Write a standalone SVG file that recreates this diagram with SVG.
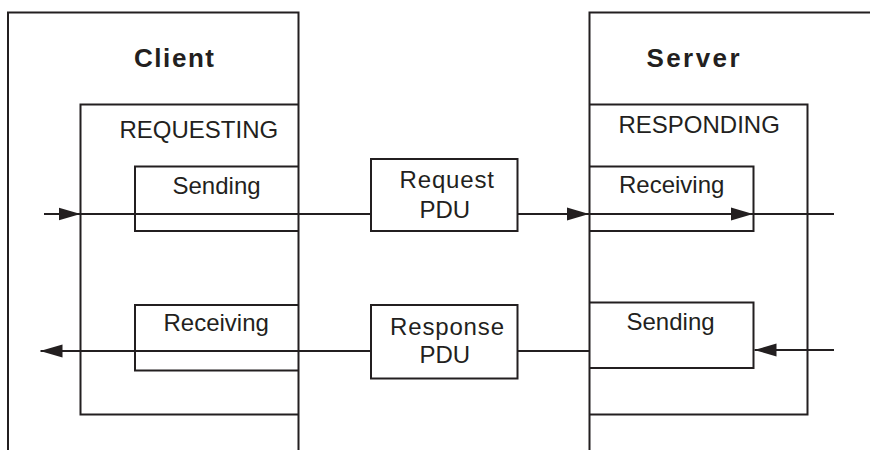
<svg xmlns="http://www.w3.org/2000/svg" width="870" height="450" viewBox="0 0 870 450">
  <style>
    .frame { fill: none; stroke: #231f20; stroke-width: 2; }
    .box { fill: #ffffff; stroke: #231f20; stroke-width: 2; }
    .wire { fill: none; stroke: #231f20; stroke-width: 2; }
    .title { font-family: "Liberation Sans", Arial, sans-serif; font-size: 26px; font-weight: bold; fill: #231f20; }
    .label { font-family: "Liberation Sans", Arial, sans-serif; font-size: 24px; fill: #231f20; }
  </style>
  <defs>
    <marker id="arrow" markerUnits="userSpaceOnUse" markerWidth="22" markerHeight="14" refX="22" refY="7" orient="auto">
      <path d="M0,0.5 L22,7 L0,13.5 z" fill="#231f20"/>
    </marker>
  </defs>

  <rect width="870" height="450" fill="#ffffff"/>

  <!-- Client side -->
  <g id="client">
    <path class="frame" d="M8,450 V12.5 H298.5 V450"/>
    <text class="title" x="134" y="66.5" textLength="80" lengthAdjust="spacing">Client</text>
  </g>
  <g id="requesting">
    <path class="frame" d="M298.5,414.5 H80.5 V104.5 H298.5"/>
    <text class="label" x="119.5" y="138">REQUESTING</text>
  </g>
  <g id="client-sending">
    <path class="frame" d="M298.5,231 H135 V166.5 H298.5"/>
    <text class="label" x="172.5" y="194">Sending</text>
  </g>
  <g id="client-receiving">
    <path class="frame" d="M298.5,370.5 H135 V305 H298.5"/>
    <text class="label" x="163.5" y="331">Receiving</text>
  </g>

  <!-- Server side -->
  <g id="server">
    <path class="frame" d="M589.5,450 V12.5 H870"/>
    <text class="title" x="646.5" y="66.5" textLength="93" lengthAdjust="spacing">Server</text>
  </g>
  <g id="responding">
    <path class="frame" d="M589.5,104.5 H807.5 V414.5 H589.5"/>
    <text class="label" x="618.5" y="132.5">RESPONDING</text>
  </g>
  <g id="server-receiving">
    <path class="frame" d="M589.5,166.5 H753.5 V231 H589.5"/>
    <text class="label" x="619" y="192.5">Receiving</text>
  </g>
  <g id="server-sending">
    <path class="frame" d="M589.5,302.5 H753.5 V368 H589.5"/>
    <text class="label" x="626.5" y="330">Sending</text>
  </g>

  <!-- Connectors -->
  <g id="connectors">
    <!-- request path, left to right -->
    <line class="wire" x1="44" y1="214" x2="80.5" y2="214" marker-end="url(#arrow)"/>
    <line class="wire" x1="80.5" y1="214" x2="371" y2="214"/>
    <line class="wire" x1="517.5" y1="214" x2="589" y2="214" marker-end="url(#arrow)"/>
    <line class="wire" x1="589" y1="214" x2="753" y2="214" marker-end="url(#arrow)"/>
    <line class="wire" x1="753" y1="214" x2="834" y2="214"/>
    <!-- response path, right to left -->
    <line class="wire" x1="834" y1="350" x2="754.5" y2="350" marker-end="url(#arrow)"/>
    <line class="wire" x1="589.5" y1="351" x2="517.5" y2="351"/>
    <line class="wire" x1="371" y1="351" x2="40.5" y2="351" marker-end="url(#arrow)"/>
  </g>

  <!-- PDU boxes -->
  <g id="request-pdu">
    <rect class="box" x="371" y="159" width="146.5" height="72"/>
    <text class="label" x="399.5" y="188" textLength="94.5" lengthAdjust="spacing">Request</text>
    <text class="label" x="419.5" y="217.5">PDU</text>
  </g>
  <g id="response-pdu">
    <rect class="box" x="371" y="305" width="146.5" height="73.5"/>
    <text class="label" x="390" y="334.5" textLength="114" lengthAdjust="spacing">Response</text>
    <text class="label" x="419.5" y="363">PDU</text>
  </g>
</svg>
